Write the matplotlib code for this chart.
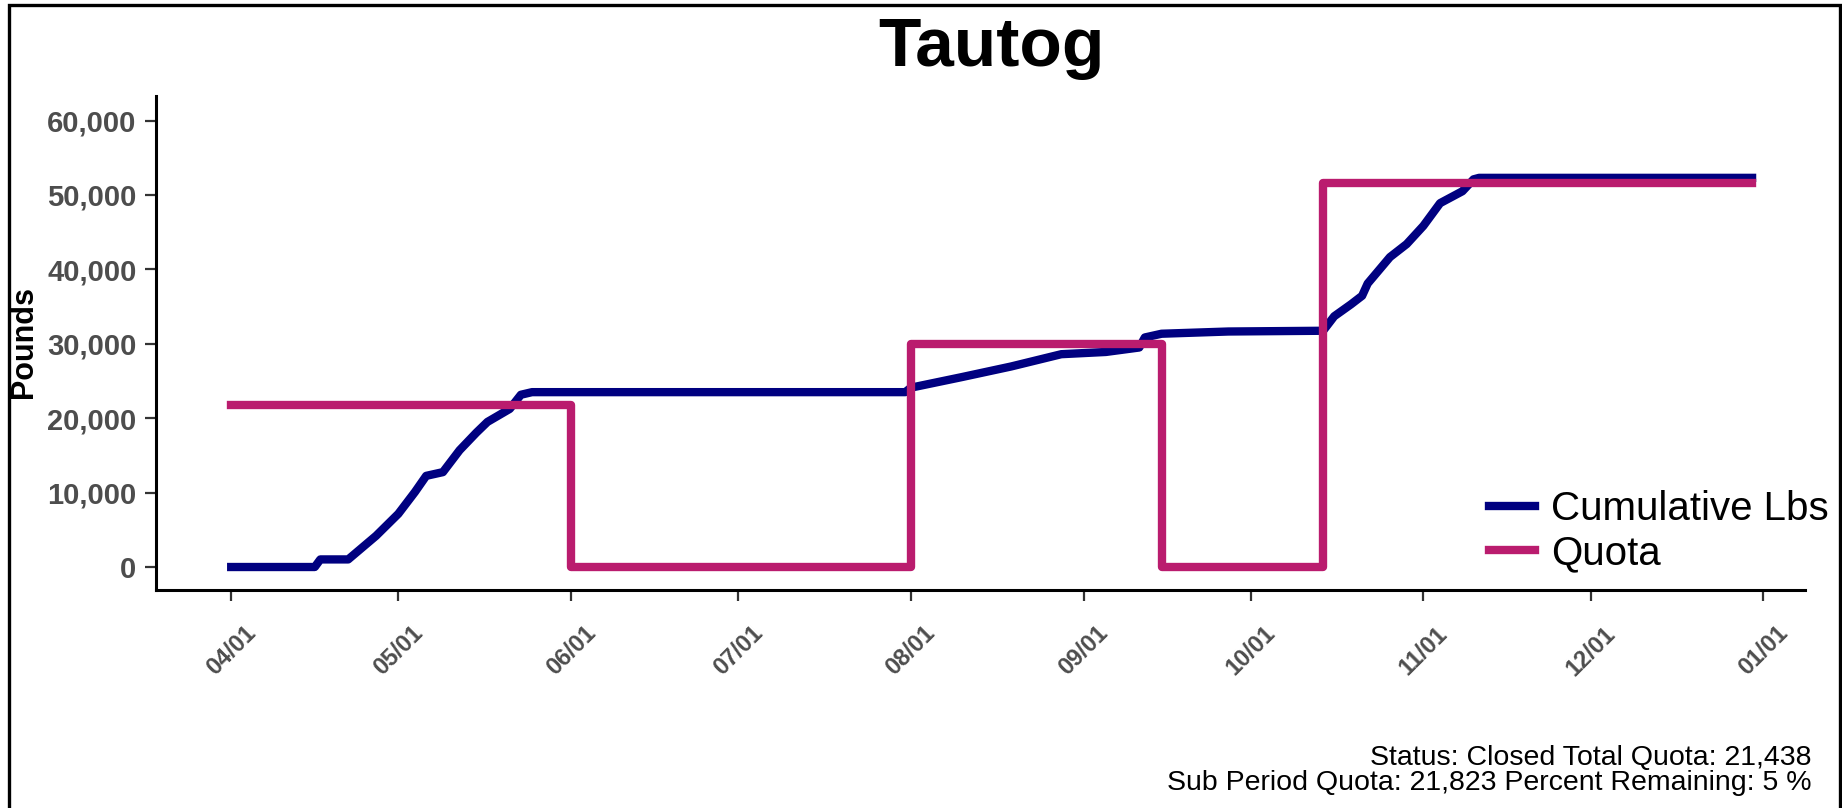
import pandas as pd
import matplotlib.pyplot as plt
import matplotlib.dates as mdates
from matplotlib.ticker import FuncFormatter, MultipleLocator
from matplotlib.patches import Rectangle

plt.rcParams['font.family'] = ['Liberation Sans', 'DejaVu Sans']

# cumulative landings
cum_dates = ['2023-04-01', '2023-04-16', '2023-04-17', '2023-04-22', '2023-04-27',
             '2023-05-01', '2023-05-04', '2023-05-06', '2023-05-09', '2023-05-12',
             '2023-05-15', '2023-05-17', '2023-05-21', '2023-05-23', '2023-05-25',
             '2023-07-31', '2023-08-01', '2023-08-10', '2023-08-19', '2023-08-28',
             '2023-09-05', '2023-09-11', '2023-09-12', '2023-09-15', '2023-09-27',
             '2023-10-14', '2023-10-16', '2023-10-19', '2023-10-21', '2023-10-22',
             '2023-10-26', '2023-10-29', '2023-11-01', '2023-11-04', '2023-11-08',
             '2023-11-10', '2023-11-11', '2023-12-30']
cum_lbs = [0, 0, 1020, 1020, 4190,
           7150, 10100, 12250, 12750, 15700,
           18050, 19500, 21250, 23150, 23500,
           23500, 24100, 25500, 26950, 28600,
           28900, 29500, 30850, 31350, 31650,
           31750, 33700, 35300, 36450, 38100,
           41650, 43400, 45850, 48900, 50500,
           52100, 52300, 52300]

# quota by sub period
quota_dates = ['2023-04-01', '2023-06-01', '2023-08-01', '2023-09-15', '2023-10-14', '2023-12-30']
quota_lbs = [21823, 0, 30000, 0, 51600, 51600]

series_names = ['Cumulative Lbs', 'Quota']
series_colors = ['#000080', '#BA1C6E']

title = 'Tautog'
y_label = 'Pounds'
caption_lines = ['Status: Closed Total Quota: 21,438',
                 'Sub Period Quota: 21,823 Percent Remaining: 5 %']

W, H = 1842, 808
fig = plt.figure(figsize=(W / 100, H / 100), dpi=100)
ax = fig.add_axes([156 / W, 1 - 590 / H, (1805 - 156) / W, (590 - 96) / H])

ax.plot(pd.to_datetime(cum_dates), cum_lbs, color=series_colors[0], lw=6,
        label=series_names[0], solid_joinstyle='round')
ax.plot(pd.to_datetime(quota_dates), quota_lbs, color=series_colors[1], lw=6,
        drawstyle='steps-post', label=series_names[1])

ax.set_xlim(pd.Timestamp('2023-03-18 12:00'), pd.Timestamp('2024-01-08 12:00'))
ax.set_ylim(-3090, 63300)
ax.yaxis.set_major_locator(MultipleLocator(10000))
ax.yaxis.set_major_formatter(FuncFormatter(lambda v, p: f'{int(v):,}'))
ax.xaxis.set_major_locator(mdates.MonthLocator())
ax.xaxis.set_major_formatter(mdates.DateFormatter('%m/%d'))

for side in ['top', 'right']:
    ax.spines[side].set_visible(False)
for side in ['left', 'bottom']:
    ax.spines[side].set_linewidth(2.2)

ax.tick_params(axis='both', length=8, width=1.6, color='#333333')
ax.tick_params(axis='y', pad=6, labelsize=21, labelcolor='#4D4D4D')
ax.tick_params(axis='x', pad=15, labelsize=17, labelcolor='#4D4D4D')
for lab in ax.get_yticklabels():
    lab.set_fontweight('bold')
for lab in ax.get_xticklabels():
    lab.set_fontweight('bold')
    lab.set_rotation(45)
    lab.set_ha('center')

fig.text(24 / W, 1 - 342 / H, y_label, rotation=90, ha='center', va='center',
         fontsize=22, fontweight='bold')
fig.text(991 / W, 1 - 66 / H, title, ha='center', va='baseline',
         fontsize=50, fontweight='bold')

ax.legend(loc='center right', bbox_to_anchor=(1829 / W, 1 - 531 / H),
          bbox_transform=fig.transFigure, frameon=False, fontsize=29,
          handlelength=1.15, handletextpad=0.4, labelspacing=0.15,
          borderpad=0, borderaxespad=0)

fig.text(1811 / W, 1 - 765 / H, caption_lines[0], ha='right', va='baseline', fontsize=20.5)
fig.text(1811 / W, 1 - 790 / H, caption_lines[1], ha='right', va='baseline', fontsize=20.5)

# outer frame around the image
fig.add_artist(Rectangle((9 / W, -0.05), (1840 - 9) / W, 1.05 - 5 / H,
                         transform=fig.transFigure, fill=False, lw=2.4, ec='black'))

fig.savefig('out.png', dpi=100)
